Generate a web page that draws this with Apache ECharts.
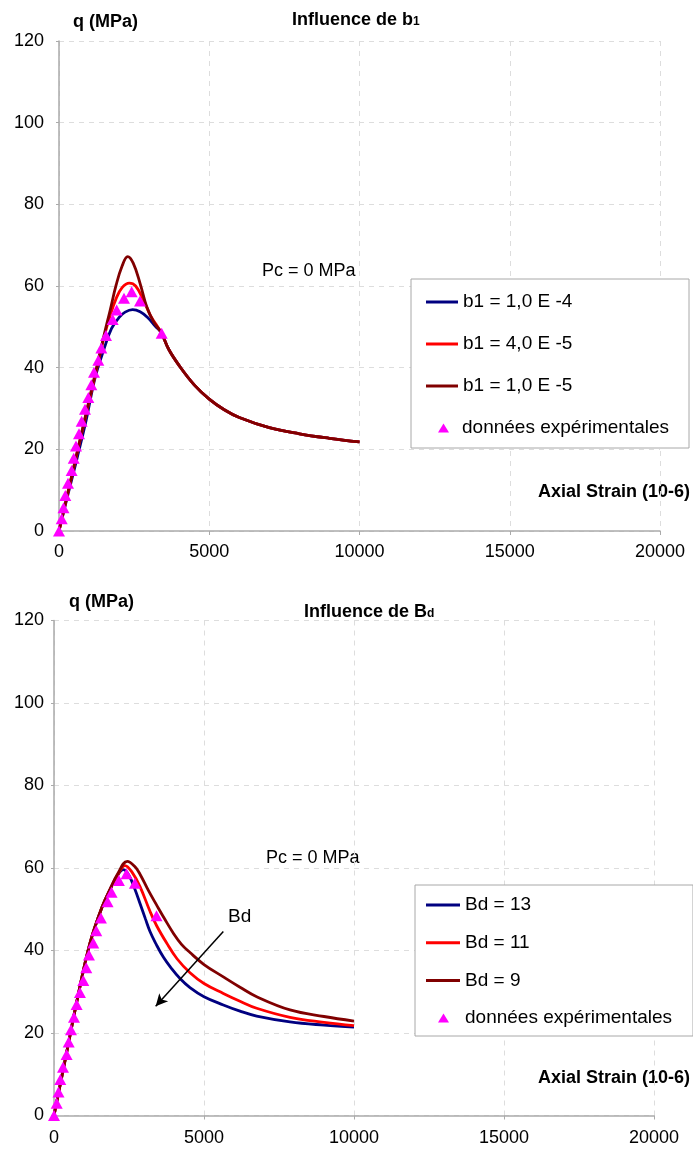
<!DOCTYPE html>
<html><head><meta charset="utf-8">
<script src="https://cdn.jsdelivr.net/npm/echarts@6/dist/echarts.min.js"></script>
<style>html,body{margin:0;padding:0;background:#fff}#c{width:693px;height:1154px}</style>
</head><body><div id="c"></div>
<script>
// ---- Data ----
const xTicks = [0, 5000, 10000, 15000, 20000];
const yTicks = [0, 20, 40, 60, 80, 100, 120];

const expStrain = [0, 90, 150, 210, 300, 420, 490, 566, 666, 754, 865, 976, 1076, 1165, 1309, 1409, 1564, 1786, 1919, 2163, 2418, 2696, 3417];
const expQ      = [0, 3, 5.7, 8.7, 11.7, 14.8, 17.8, 20.8, 23.8, 26.9, 29.8, 32.7, 35.8, 38.9, 41.8, 44.8, 47.9, 51.8, 54.1, 57.0, 58.6, 56.3, 48.4];

// Top chart: Influence de b1
const b1aStrain = [0, 300, 600, 900, 1200, 1500, 1750, 2000, 2200, 2450, 2700, 2950, 3200, 3400, 3650, 4000, 4500, 5000, 5500, 6000, 7000, 8000, 9000, 10000];
const b1aQ      = [0, 9, 17.8, 27, 37.5, 44.6, 49.6, 52.3, 53.6, 54.2, 53.7, 52.3, 50.2, 48.6, 44.5, 40.5, 35.8, 32.3, 29.7, 27.8, 25.3, 23.8, 22.7, 21.8];
const b1bStrain = [0, 300, 600, 900, 1200, 1500, 1700, 1900, 2100, 2340, 2550, 2800, 3050, 3400, 3650, 4000, 4500, 5000, 5500, 6000, 7000, 8000, 9000, 10000];
const b1bQ      = [0, 9.5, 19, 28.5, 38, 47.5, 52.7, 56.9, 59.6, 60.7, 60, 56.7, 52.7, 48.6, 44.5, 40.5, 35.8, 32.3, 29.7, 27.8, 25.3, 23.8, 22.7, 21.8];
const b1cStrain = [0, 300, 600, 900, 1200, 1500, 1700, 1900, 2100, 2285, 2470, 2700, 2920, 3150, 3400, 3650, 4000, 4500, 5000, 5500, 6000, 7000, 8000, 9000, 10000];
const b1cQ      = [0, 9.6, 19.2, 28.8, 38.4, 48, 54, 60.2, 64.9, 67.2, 65.6, 60.6, 54.9, 51.2, 48.6, 44.5, 40.5, 35.8, 32.3, 29.7, 27.8, 25.3, 23.8, 22.7, 21.8];

// Bottom chart: Influence de Bd
const bd13Strain = [0, 400, 800, 1200, 1600, 1900, 2100, 2311, 2500, 2700, 2867, 3050, 3200, 3400, 3644, 3900, 4200, 4533, 5000, 5644, 6200, 6756, 7867, 9000, 10000];
const bd13Q      = [0, 14.5, 29, 41.8, 50.5, 55.3, 58, 59.6, 58.2, 54.8, 51.4, 47.6, 44.6, 41.6, 38.4, 35.8, 33.2, 31, 28.8, 26.8, 25.3, 24.1, 22.7, 21.9, 21.4];
const bd11Strain = [0, 400, 800, 1200, 1600, 1900, 2100, 2367, 2600, 2867, 3200, 3422, 3756, 4100, 4533, 5000, 5644, 6200, 6756, 7867, 9000, 10000];
const bd11Q      = [0, 14.5, 29, 41.8, 50.5, 55.3, 58, 60.6, 59, 55.5, 49.5, 46, 41.8, 38, 34.6, 32, 29.6, 27.7, 26, 23.8, 22.6, 21.8];
const bd9Strain  = [0, 400, 800, 1200, 1600, 1900, 2100, 2444, 2700, 2867, 3150, 3422, 3700, 3978, 4250, 4533, 5000, 5644, 6200, 6756, 7867, 9000, 10000];
const bd9Q       = [0, 14.5, 29, 41.8, 50.5, 55.3, 58.3, 61.6, 60.3, 58.5, 54.5, 51, 47.5, 44.2, 41.5, 39.5, 36.6, 33.6, 31.1, 28.8, 25.6, 24, 22.9];

const arrowFrom = [5644, 44.6];
const arrowTo   = [3389, 26.5];

// ---- Chart ----
const pair = (xs, ys) => xs.map((x, i) => [x, ys[i]]);
const FONT = "'Liberation Sans', Arial, Helvetica, sans-serif";
const NAVY = '#000080', RED = '#ff0000', DARK = '#800000', MAG = '#ff00ff';

function xAxis(grid, margin) {
  return {
    type: 'value', gridIndex: grid, min: xTicks[0], max: xTicks[xTicks.length - 1], interval: 5000,
    axisLine: { show: true, onZero: false, lineStyle: { color: '#aaaaaa', width: 1.5 } },
    axisTick: { show: true, length: 4, lineStyle: { color: '#aaaaaa' } },
    axisLabel: { color: '#000', fontSize: 18, fontFamily: FONT, margin: margin, formatter: v => String(v) },
    splitLine: { show: true, lineStyle: { color: '#dddddd', type: [5, 5], width: 1 } }
  };
}
function yAxis(grid, margin) {
  return {
    type: 'value', gridIndex: grid, min: yTicks[0], max: yTicks[yTicks.length - 1], interval: 20,
    axisLine: { show: true, onZero: false, lineStyle: { color: '#aaaaaa', width: 1.5 } },
    axisTick: { show: true, length: 3, lineStyle: { color: '#aaaaaa' } },
    axisLabel: { color: '#000', fontSize: 18, fontFamily: FONT, margin: margin, formatter: v => String(v) },
    splitLine: { show: true, lineStyle: { color: '#dddddd', type: [5, 5], width: 1 } }
  };
}
function lineSeries(name, data, color, idx, extra) {
  return Object.assign({
    name: name, type: 'line', xAxisIndex: idx, yAxisIndex: idx, data: data,
    symbol: 'none', smooth: 0.4,
    lineStyle: { color: color, width: 2.8 }, itemStyle: { color: color }, z: 2
  }, extra || {});
}
function scatterSeries(idx) {
  return {
    name: 'données expérimentales', type: 'scatter', xAxisIndex: idx, yAxisIndex: idx,
    data: pair(expStrain, expQ), symbol: 'triangle', symbolSize: [12, 11],
    itemStyle: { color: MAG, opacity: 1 }, z: 3
  };
}
const legendText = { fontSize: 19, fontFamily: FONT, color: '#000', lineHeight: 20 };
const lineItem = n => ({ name: n, icon: 'rect' });

const option = {
  animation: false,
  backgroundColor: '#fff',
  grid: [
    { left: 59, top: 41, width: 601, height: 490 },
    { left: 54, top: 620.5, width: 600, height: 495 }
  ],
  xAxis: [xAxis(0, 12), xAxis(1, 14)],
  yAxis: [yAxis(0, 15), yAxis(1, 10)],
  legend: [
    { orient: 'vertical', left: 426, top: 292, itemWidth: 32, itemHeight: 3, itemGap: 22, padding: 0, z: 10,
      selectedMode: false, textStyle: legendText,
      data: ['b1 = 1,0 E -4', 'b1 = 4,0 E -5', 'b1 = 1,0 E -5'].map(lineItem) },
    { orient: 'vertical', left: 438, top: 418, itemWidth: 11, itemHeight: 9, padding: 0, z: 10,
      selectedMode: false, textStyle: Object.assign({ padding: [0, 0, 0, 8] }, legendText),
      data: [{ name: 'données expérimentales', icon: 'triangle' }] },
    { orient: 'vertical', left: 426, top: 895, itemWidth: 34, itemHeight: 3, itemGap: 17.7, padding: 0, z: 10,
      selectedMode: false, textStyle: legendText,
      data: ['Bd = 13', 'Bd = 11', 'Bd = 9'].map(lineItem) },
    { orient: 'vertical', left: 438, top: 1008, itemWidth: 11, itemHeight: 9, padding: 0, z: 10,
      selectedMode: false, textStyle: Object.assign({ padding: [0, 0, 0, 11] }, legendText),
      data: [{ name: 'données expérimentales', icon: 'triangle' }] }
  ],
  series: [
    lineSeries('b1 = 1,0 E -4', pair(b1aStrain, b1aQ), NAVY, 0),
    lineSeries('b1 = 4,0 E -5', pair(b1bStrain, b1bQ), RED, 0),
    lineSeries('b1 = 1,0 E -5', pair(b1cStrain, b1cQ), DARK, 0),
    scatterSeries(0),
    lineSeries('Bd = 13', pair(bd13Strain, bd13Q), NAVY, 1, {
      markLine: {
        silent: true, symbol: ['none', 'arrow'], symbolSize: [9, 12],
        label: { show: false },
        lineStyle: { color: '#000', width: 1.5, type: 'solid' },
        emphasis: { disabled: true },
        data: [[{ coord: arrowFrom }, { coord: arrowTo }]]
      }
    }),
    lineSeries('Bd = 11', pair(bd11Strain, bd11Q), RED, 1),
    lineSeries('Bd = 9', pair(bd9Strain, bd9Q), DARK, 1),
    scatterSeries(1)
  ],
  graphic: [
    { type: 'rect', z: 1, shape: { x: 411, y: 279, width: 278, height: 169 }, style: { fill: '#fff', stroke: '#a8a8a8', lineWidth: 1 } },
    { type: 'rect', z: 1, shape: { x: 415, y: 885, width: 278, height: 151 }, style: { fill: '#fff', stroke: '#a8a8a8', lineWidth: 1 } },
    { type: 'text', x: 73, y: 22, style: { text: 'q (MPa)', font: "bold 18px " + FONT, fill: '#000', verticalAlign: 'middle' } },
    { type: 'text', x: 69, y: 602, style: { text: 'q (MPa)', font: "bold 18px " + FONT, fill: '#000', verticalAlign: 'middle' } },
    { type: 'text', x: 292, y: 9, style: {
      text: '{a|Influence de b}{s|1}', fill: '#000',
      rich: { a: { font: "bold 18px " + FONT, lineHeight: 20, verticalAlign: 'bottom' }, s: { font: "bold 12px " + FONT, lineHeight: 20, verticalAlign: 'bottom', padding: [0, 0, 1, 0] } } } },
    { type: 'text', x: 304, y: 601, style: {
      text: '{a|Influence de B}{s|d}', fill: '#000',
      rich: { a: { font: "bold 18px " + FONT, lineHeight: 20, verticalAlign: 'bottom' }, s: { font: "bold 12px " + FONT, lineHeight: 20, verticalAlign: 'bottom', padding: [0, 0, 1, 0] } } } },
    { type: 'text', x: 690, y: 492, style: { text: 'Axial Strain (10-6)', font: "bold 18px " + FONT, fill: '#000', align: 'right', verticalAlign: 'middle' } },
    { type: 'text', x: 690, y: 1078, style: { text: 'Axial Strain (10-6)', font: "bold 18px " + FONT, fill: '#000', align: 'right', verticalAlign: 'middle' } },
    { type: 'text', x: 262, y: 271, style: { text: 'Pc = 0 MPa', font: "18px " + FONT, fill: '#000', verticalAlign: 'middle' } },
    { type: 'text', x: 266, y: 858, style: { text: 'Pc = 0 MPa', font: "18px " + FONT, fill: '#000', verticalAlign: 'middle' } },
    { type: 'text', x: 228, y: 917, style: { text: 'Bd', font: "19px " + FONT, fill: '#000', verticalAlign: 'middle' } }
  ]
};

const chart = echarts.init(document.getElementById('c'), null, { renderer: 'canvas' });
chart.setOption(option);
</script>
</body></html>
